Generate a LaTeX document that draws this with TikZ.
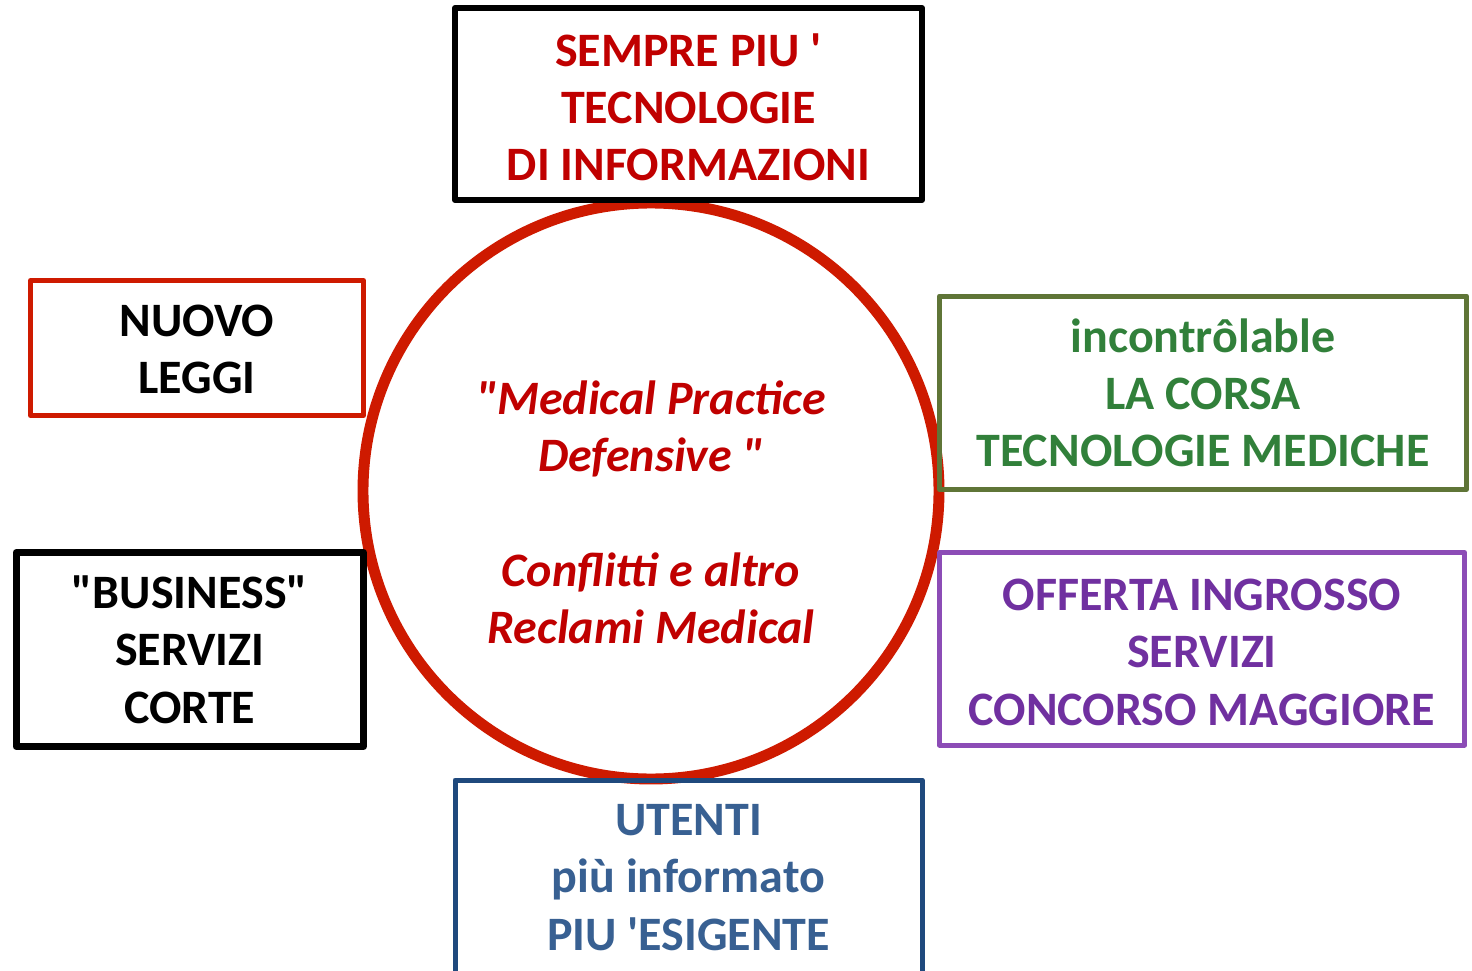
\documentclass[tikz,border=0pt]{standalone}
\usepackage{fontspec}
\setmainfont{Carlito}
\definecolor{txtred}{RGB}{192,0,0}
\definecolor{circred}{RGB}{206,26,0}
\definecolor{txtgreen}{RGB}{49,128,58}
\definecolor{brdgreen}{RGB}{95,117,55}
\definecolor{txtpurple}{RGB}{112,48,160}
\definecolor{brdpurple}{RGB}{140,76,182}
\definecolor{txtblue}{RGB}{56,96,146}
\definecolor{brdblue}{RGB}{31,73,125}
\newcommand{\dq}{\textquotedbl}
\newcommand{\sq}{\textquotesingle}
\begin{document}
\begin{tikzpicture}[x=0.75pt,y=-0.75pt,
  box/.style={draw, rectangle, line join=round, inner sep=0pt},
  btext/.style={align=center, inner sep=0pt,
    font=\fontsize{36}{43}\selectfont\bfseries},
  ctext/.style={align=center, inner sep=0pt, text=txtred,
    font=\fontsize{36}{43}\selectfont\bfseries\itshape}]
\useasboundingbox (0,0) rectangle (1472,971);
\fill[white] (0,0) rectangle (1472,971);

\node[circle, draw=circred, line width=8.2pt, minimum size=432pt, inner sep=0pt] (c) at (651,491) {};
\node[ctext] (ct) at ([yshift=-16pt]c.center) {\dq Medical Practice\\Defensive \dq\\[43pt]Conflitti e altro\\Reclami Medical};

\node[box, draw=black, line width=4.5pt, minimum width=350.25pt, minimum height=144pt] (top) at (688.5,104) {};
\node[btext, text=txtred] (topt) at ([yshift=-2.4pt]top.center) {SEMPRE PIU \sq\\TECNOLOGIE\\DI INFORMAZIONI};

\node[box, draw=circred, line width=3.75pt, minimum width=249.75pt, minimum height=101.25pt] (leggi) at (197,348) {};
\node[btext, text=black] (leggit) at ([yshift=-1.2pt]leggi.center) {NUOVO\\LEGGI};

\node[box, draw=black, line width=5.25pt, minimum width=260.6pt, minimum height=145.5pt] (bus) at (189.75,649.5) {};
\node[btext, text=black] (bust) at ([yshift=0pt]bus.center) {\dq BUSINESS\dq\\SERVIZI\\CORTE};

\node[box, draw=brdgreen, line width=3.75pt, minimum width=395.25pt, minimum height=145pt] (green) at (1203,392.75) {};
\node[btext, text=txtgreen] (greent) at ([yshift=0pt]green.center) {incontrôlable\\LA CORSA\\TECNOLOGIE MEDICHE};

\node[box, draw=brdpurple, line width=3.75pt, minimum width=393.75pt, minimum height=144.4pt] (purple) at (1202,648.75) {};
\node[btext, text=txtpurple] (purplet) at ([yshift=-2.6pt]purple.center) {OFFERTA INGROSSO\\SERVIZI\\CONCORSO MAGGIORE};

\node[box, draw=brdblue, line width=3.75pt, minimum width=350.25pt, minimum height=146.25pt] (blue) at (688.5,877.5) {};
\node[btext, text=txtblue] (bluet) at ([yshift=0pt]blue.center) {UTENTI\\più informato\\PIU \sq ESIGENTE};
\end{tikzpicture}
\end{document}
